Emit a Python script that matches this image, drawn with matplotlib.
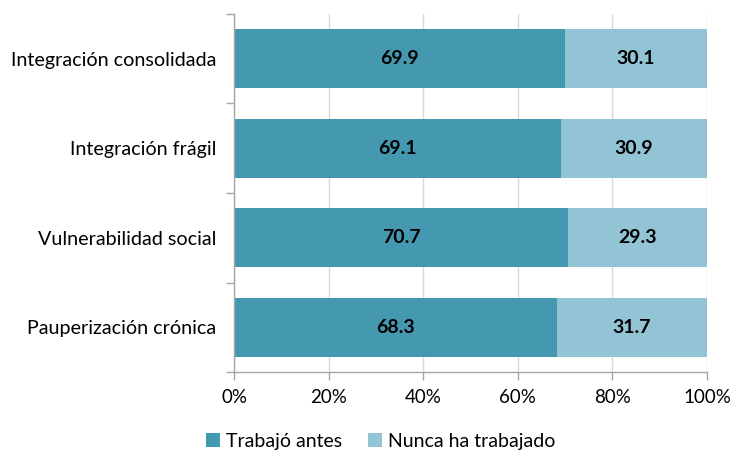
import matplotlib
matplotlib.use('Agg')
import matplotlib.pyplot as plt
from matplotlib.ticker import FixedLocator, PercentFormatter

plt.rcParams['font.family'] = ['Lato', 'DejaVu Sans']
plt.rcParams['font.size'] = 13.5

# Datos: porcentaje por tipo de estrato
categorias = ['Integración consolidada', 'Integración frágil',
              'Vulnerabilidad social', 'Pauperización crónica']
trabajo_antes = [69.9, 69.1, 70.7, 68.3]
nunca_trabajo = [30.1, 30.9, 29.3, 31.7]

color_oscuro = '#4499b1'
color_claro = '#93c4d5'
gris = '#a6a6a6'

fig = plt.figure(figsize=(7.32, 4.54), dpi=100)
ax = fig.add_axes([0.3197, 0.1806, 0.6461, 0.7886])

y = list(range(len(categorias)))[::-1]
alto = 0.66
b1 = ax.barh(y, trabajo_antes, height=alto, color=color_oscuro, label='Trabajó antes', zorder=2)
b2 = ax.barh(y, nunca_trabajo, left=trabajo_antes, height=alto, color=color_claro,
             label='Nunca ha trabajado', zorder=2)

for barras, vals in ((b1, trabajo_antes), (b2, nunca_trabajo)):
    for r, v in zip(barras, vals):
        ax.text(r.get_x() + r.get_width() / 2, r.get_y() + r.get_height() / 2, f'{v:.1f}',
                ha='center', va='center', fontweight='bold', fontsize=14, color='black')

ax.set_xlim(0, 100)
ax.set_ylim(-0.5, len(categorias) - 0.5)
ax.xaxis.set_major_locator(FixedLocator([0, 20, 40, 60, 80, 100]))
ax.xaxis.set_major_formatter(PercentFormatter(decimals=0))
ax.grid(axis='x', color='#d9d9d9', linewidth=1, zorder=0)

# Etiquetas en el centro de cada categoría, marcas en los límites
ax.set_yticks(y)
ax.set_yticklabels(categorias, fontsize=14.2)
ax.set_yticks([i - 0.5 for i in range(len(categorias) + 1)], minor=True)
ax.tick_params(axis='y', which='major', length=0, pad=13)
ax.tick_params(axis='y', which='minor', length=6, color=gris, width=1)
ax.tick_params(axis='x', length=6, color=gris, width=1, pad=6)

for s in ('top', 'right'):
    ax.spines[s].set_visible(False)
for s in ('left', 'bottom'):
    ax.spines[s].set_color(gris)
    ax.spines[s].set_linewidth(1)

fig.legend(handles=[b1, b2], loc='center', bbox_to_anchor=(0.52, 0.028), ncol=2,
           frameon=False, handlelength=0.75, handleheight=0.75, handletextpad=0.3,
           columnspacing=1.3, fontsize=14)

fig.savefig('out.png', dpi=100)
